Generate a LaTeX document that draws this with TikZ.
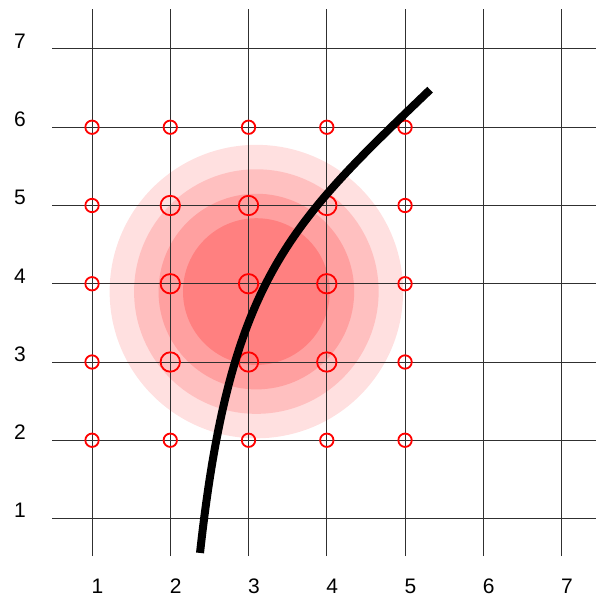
\documentclass[tikz,border=0pt]{standalone}
\usepackage{fontspec}
\setmainfont{Liberation Sans}
\usepackage{tikz}
\usetikzlibrary{positioning}
\definecolor{gridgray}{HTML}{303030}
\definecolor{ringa}{HTML}{FFE0E0}
\definecolor{ringb}{HTML}{FFC0C0}
\definecolor{ringc}{HTML}{FFA0A0}
\definecolor{ringd}{HTML}{FF8080}
\tikzstyle{gridline} = [
  line width=1pt, color=gridgray
]

\begin{document}
\begin{tikzpicture}[
  x=78.25pt, y=78.25pt,
  every node/.style={font=\fontsize{21}{25}\selectfont},
  tick/.style={inner sep=0pt},
  probe/.style={circle, draw=red, line width=1.8pt, inner sep=0pt,
                minimum size=13.4pt},
  track/.style={line width=8pt, color=black},
]
  \useasboundingbox (-0.176,-0.003) rectangle (7.428,7.626);

  % shaded area round the source
  \coordinate (src) at (3.1,3.9);
  \fill[ringa] (src) circle (1.875);
  \fill[ringb] (src) circle (1.5625);
  \fill[ringc] (src) circle (1.25);
  \fill[ringd] (src) circle (0.9375);

  % grid
  \foreach \k in {1,...,7} {
    \draw[gridline] (\k,0.52) -- (\k,7.51);
    \draw[gridline] (0.49,\k) -- (7.5,\k);
  }

  % axis labels
  \foreach \k in {1,...,7} {
    \node[tick] (x\k) at (\k+0.07,0.13) {\k};
    \node[tick] (y\k) at (0.08,\k+0.1) {\k};
  }

  % sample points, bigger ones inside
  \foreach \i in {1,...,5} {
    \foreach \j in {2,...,6} {
      \pgfmathsetmacro\psize{(\i>1 && \i<5 && \j>2 && \j<6) ? 19.4 : 13.4}
      \node[probe, minimum size=\psize pt] (p\i\j) at (\i,\j) {};
    }
  }

  % path
  \coordinate (start) at (2.38,0.56);
  \coordinate (end)   at (5.32,6.48);
  \draw[track] (start) .. controls (2.765,4.06) and (3.52,4.755) .. (end);
\end{tikzpicture}
\end{document}
